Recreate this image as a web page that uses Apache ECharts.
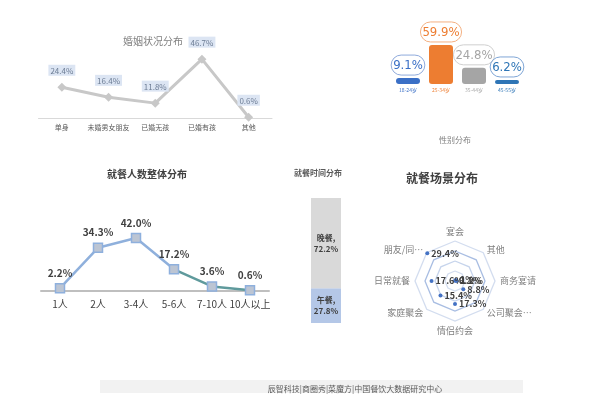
<!DOCTYPE html>
<html><head><meta charset="utf-8">
<script src="https://cdn.jsdelivr.net/npm/echarts@6/dist/echarts.min.js"></script>
<style>html,body{margin:0;padding:0;background:#fff}#c{width:600px;height:406px}</style>
</head><body><div id="c"></div>
<script>
// ---- data ----
const marriageCats = ['单身','未婚男女朋友','已婚无孩','已婚有孩','其他'];
const marriageVals = [24.4,16.4,11.8,46.7,0.6];
const ageCats = ['18-24岁','25-34岁','35-44岁','45-55岁'];
const ageVals = [9.1,59.9,24.8,6.2];
const partyCats = ['1人','2人','3-4人','5-6人','7-10人','10人以上'];
const partyVals = [2.2,34.3,42.0,17.2,3.6,0.6];
const mealCats = ['午餐','晚餐'];
const mealVals = [27.8,72.2];
// radar, counter-clockwise from top
const sceneCats = ['宴会','朋友/同…','日常就餐','家庭聚会','情侣约会','公司聚会…','商务宴请','其他'];
const sceneVals = [0.1,29.4,17.6,15.4,17.3,8.8,1.2,1];
const footerText = '辰智科技|商圈秀|菜魔方|中国餐饮大数据研究中心';

// ---- styles ----
const FONT = '"Noto Sans CJK SC","Noto Sans",sans-serif';
const ageColors = ['#3a6fc6','#ed7d31','#a5a5a5','#2e75b6'];
const ageBorders = ['#8faadc','#f4b183','#cfcfcf','#7fa6d6'];
const pct1 = p => Number(p.value).toFixed(1) + '%';

const chart = echarts.init(document.getElementById('c'), null, {renderer:'canvas'});

function titleText(text, x, y, size, color, weight){
  return {type:'text', x:x, y:y, style:{text:text, fill:color, font:(weight||'normal')+' '+size+'px '+FONT, textAlign:'center', textVerticalAlign:'middle'}};
}

const option = {
  backgroundColor:'#ffffff',
  animation:false,
  textStyle:{fontFamily:FONT},
  graphic:[
    titleText('婚姻状况分布',153,41,10,'#808080'),
    titleText('性别分布',455,140,8,'#808080'),
    titleText('就餐人数整体分布',147,174,10,'#404040','bold'),
    titleText('就餐时间分布',318,173,8,'#595959','bold'),
    titleText('就餐场景分布',442,178,12,'#404040','bold'),
    {type:'rect', shape:{x:100,y:380,width:423,height:13}, style:{fill:'#f2f2f2'}},
    titleText(footerText,355,389,8,'#595959')
  ],
  grid:[
    {left:38.5, top:55, width:233.5, height:63},
    {left:391.5, top:40, width:132, height:44},
    {left:41, top:228, width:228, height:63},
    {left:311, top:198, width:30, height:125}
  ],
  xAxis:[
    {gridIndex:0, type:'category', data:marriageCats, axisTick:{show:false},
     axisLine:{lineStyle:{color:'#d9d9d9',width:1}},
     axisLabel:{interval:0, fontSize:7,color:'#595959',margin:6}},
    {gridIndex:1, type:'category', data:ageCats, axisTick:{show:false}, axisLine:{show:false},
     axisLabel:{interval:0, fontSize:5,margin:4,color:function(v,i){return ageColors[i];}}},
    {gridIndex:2, type:'category', data:partyCats, axisTick:{show:false},
     axisLine:{lineStyle:{color:'#bfbfbf',width:2}},
     axisLabel:{interval:0, fontSize:10,color:'#404040',margin:8}},
    {gridIndex:3, type:'category', data:['合计'], show:false}
  ],
  yAxis:[
    {gridIndex:0, type:'value', min:0, max:50, show:false},
    {gridIndex:1, type:'value', min:0, max:67.5, show:false},
    {gridIndex:2, type:'value', min:0, max:50, show:false},
    {gridIndex:3, type:'value', min:0, max:100, show:false}
  ],
  radar:{
    center:[455,281], radius:40, startAngle:90, splitNumber:4, shape:'polygon',
    indicator: sceneCats.map(n=>({name:n, max:30})),
    axisName:{color:'#7f7f7f', fontSize:9},
    nameGap:5,
    axisLine:{show:false},
    splitArea:{show:false},
    splitLine:{lineStyle:{color:['#d3ddef','#d3ddef','#c6d4ec','#a8bde2'], width:1.3}}
  },
  series:[
    {type:'line', xAxisIndex:0, yAxisIndex:0, data:marriageVals,
     symbol:'diamond', symbolSize:9,
     itemStyle:{color:'#c8c8c8'}, lineStyle:{color:'#c8c8c8', width:3},
     label:{show:true, position:'top', distance:7, formatter:pct1, fontSize:8, color:'#6d7d95',
            backgroundColor:'#dce5f3', padding:[2,2,1,2]}},
    {type:'bar', xAxisIndex:1, yAxisIndex:1, barWidth:24,
     data: ageVals.map((v,i)=>({value:v,
        itemStyle:{color:ageColors[i], borderRadius:3},
        label:{color:ageColors[i], borderColor:ageBorders[i]}})),
     label:{show:true, position:'top', distance:3, formatter:pct1, fontSize:13,
            fontFamily:'"Liberation Sans Narrow","DejaVu Sans Condensed",sans-serif',
            borderWidth:1, borderRadius:14, padding:[4,2,3,2]}},
    {type:'line', xAxisIndex:2, yAxisIndex:2, data:partyVals,
     symbol:'rect', symbolSize:9,
     itemStyle:{color:'#bcc5d3', borderColor:'#8eb0dd', borderWidth:1.5},
     lineStyle:{width:2.5, color:{type:'linear',x:0,y:0,x2:1,y2:0,colorStops:[
        {offset:0,color:'#8fb0dc'},{offset:0.6,color:'#8fb0dc'},{offset:0.6,color:'#5f9a9c'},{offset:1,color:'#5f9a9c'}]}},
     label:{show:true, position:'top', distance:5, formatter:pct1, fontSize:10, fontWeight:'bold', color:'#404040'}},
    {type:'bar', name:mealCats[0], xAxisIndex:3, yAxisIndex:3, stack:'meal', barWidth:'100%',
     data:[mealVals[0]], itemStyle:{color:'#b4c7e7'},
     label:{show:true, position:'inside', formatter:'{a},\n{c}%', fontSize:8, fontWeight:'bold', color:'#404040', lineHeight:11}},
    {type:'bar', name:mealCats[1], xAxisIndex:3, yAxisIndex:3, stack:'meal', barWidth:'100%',
     data:[mealVals[1]], itemStyle:{color:'#d9d9d9'},
     label:{show:true, position:'inside', formatter:'{a},\n{c}%', fontSize:8, fontWeight:'bold', color:'#404040', lineHeight:11}},
    {type:'radar', data:[{value:sceneVals, name:'就餐场景'}],
     symbol:'circle', symbolSize:4, itemStyle:{color:'#4472c4'},
     lineStyle:{opacity:0}, areaStyle:{opacity:0},
     label:{show:true, position:'right', distance:2, formatter:p=>p.value+'%', fontSize:9, fontWeight:'bold', color:'#404040'}}
  ]
};
chart.setOption(option);
</script>
</body></html>
